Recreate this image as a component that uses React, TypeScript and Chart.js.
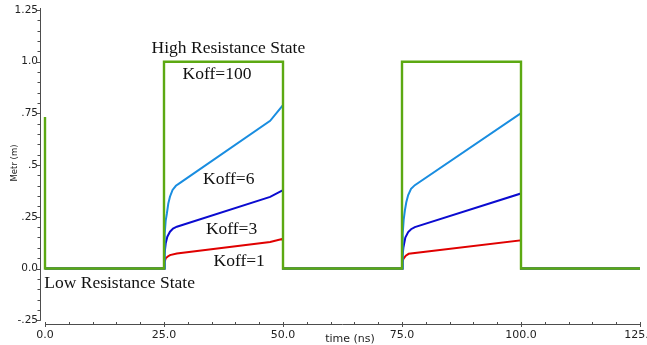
import React, { useEffect, useRef } from "react";
import { Chart, registerables } from "chart.js";

Chart.register(...registerables);

// Koff = 100: the switching pulse itself (green)
const koff100Time = [0, 0, 25, 25, 50, 50, 75, 75, 100, 100, 125];
const koff100Metr = [0.733, 0, 0, 1, 1, 0, 0, 1, 1, 0, 0];

// Koff = 6 (light blue)
const koff6Time = [0, 25, 25.15, 25.35, 25.6, 25.9, 26.25, 26.8, 27.5, 28.3, 47.3, 50, 50, 75, 75.15, 75.35, 75.6, 75.9, 76.3, 76.9, 77.7, 100, 100, 125];
const koff6Metr = [0, 0, 0.17, 0.23, 0.265, 0.314, 0.347, 0.38, 0.4, 0.413, 0.714, 0.79, 0, 0, 0.17, 0.235, 0.28, 0.32, 0.355, 0.385, 0.403, 0.751, 0, 0];

// Koff = 3 (dark blue)
const koff3Time = [0, 25, 25.1, 25.36, 25.7, 26.26, 26.9, 27.7, 47.3, 50, 50, 75, 75.1, 75.3, 75.7, 76.3, 76.9, 77.7, 100, 100, 125];
const koff3Metr = [0, 0, 0.07, 0.122, 0.154, 0.178, 0.193, 0.202, 0.346, 0.379, 0, 0, 0.06, 0.103, 0.15, 0.176, 0.19, 0.2, 0.363, 0, 0];

// Koff = 1 (red)
const koff1Time = [0, 25, 25.1, 25.36, 25.8, 26.26, 27.7, 47.3, 50, 50, 75, 75.1, 75.3, 75.8, 76.4, 100, 100, 125];
const koff1Metr = [0, 0, 0.03, 0.049, 0.058, 0.065, 0.073, 0.128, 0.144, 0, 0, 0.03, 0.047, 0.062, 0.071, 0.136, 0, 0];

const xTickLabels = ["0.0", "25.0", "50.0", "75.0", "100.0", "125.0"];
const yTickLabels = ["-.25", "0.0", ".25", ".5", ".75", "1.0", "1.25"];

// Text notes placed in data coordinates (time, Metr) at the left end of the baseline
const notes = [
  { text: "High Resistance State", t: 22.4, m: 1.042 },
  { text: "Koff=100", t: 28.9, m: 0.914 },
  { text: "Koff=6", t: 33.2, m: 0.41 },
  { text: "Koff=3", t: 33.8, m: 0.169 },
  { text: "Koff=1", t: 35.4, m: 0.012 },
  { text: "Low Resistance State", t: -0.15, m: -0.094 },
];

const toPoints = (ts: number[], ms: number[]) => ts.map((t, i) => ({ x: t, y: ms[i] }));

const AXIS_COLOR = "#4d4d4d";
const TEXT_COLOR = "#222222";

// Detached axes with major/minor ticks, axis titles and the serif notes
const decorations = {
  id: "decorations",
  afterDraw(chart: any) {
    const { ctx } = chart;
    const xs = chart.scales.x;
    const ys = chart.scales.y;
    ctx.save();
    ctx.strokeStyle = AXIS_COLOR;
    ctx.lineWidth = 1;

    // vertical axis, set a few pixels left of the plot area
    const ax = Math.round(xs.left - 5) + 0.5;
    ctx.beginPath();
    ctx.moveTo(ax, ys.top - 2);
    ctx.lineTo(ax, ys.bottom + 0.5);
    for (let k = 0; k <= 30; k++) {
      const v = -0.25 + k * 0.05;
      const p = Math.round(ys.getPixelForValue(v)) + 0.5;
      const major = k % 5 === 0;
      ctx.moveTo(ax - (major ? 4 : 3), p);
      ctx.lineTo(ax, p);
    }
    ctx.stroke();

    // horizontal axis, set a few pixels below the plot area
    const ay = Math.round(ys.bottom + 3.8) + 0.5;
    ctx.beginPath();
    ctx.moveTo(xs.left, ay);
    ctx.lineTo(xs.right, ay);
    for (let k = 0; k <= 25; k++) {
      const t = k * 5;
      const p = Math.round(xs.getPixelForValue(t)) + 0.5;
      const major = k % 5 === 0;
      ctx.moveTo(p, ay - 2.5);
      ctx.lineTo(p, ay + (major ? 2.5 : 0));
    }
    ctx.stroke();

    // axis titles
    ctx.fillStyle = TEXT_COLOR;
    ctx.font = '11px "DejaVu Sans"';
    ctx.textAlign = "center";
    ctx.textBaseline = "alphabetic";
    ctx.fillText("time (ns)", 350, 341.5);

    ctx.save();
    ctx.translate(17, 163);
    ctx.rotate(-Math.PI / 2);
    ctx.font = '8.5px "DejaVu Sans"';
    ctx.fillText("Metr (m)", 0, 0);
    ctx.restore();

    // notes
    ctx.fillStyle = "#111111";
    ctx.font = '17.5px "Liberation Serif"';
    ctx.textAlign = "left";
    for (const n of notes) {
      ctx.fillText(n.text, xs.getPixelForValue(n.t), ys.getPixelForValue(n.m));
    }
    ctx.restore();
  },
};

export default function App() {
  const canvasRef = useRef<HTMLCanvasElement | null>(null);

  useEffect(() => {
    const canvas = canvasRef.current;
    if (!canvas) return;
    const line = (label: string, color: string, width: number, ts: number[], ms: number[]) => ({
      label,
      data: toPoints(ts, ms),
      borderColor: color,
      backgroundColor: color,
      borderWidth: width,
      pointRadius: 0,
      tension: 0,
      fill: false,
      clip: false as const,
    });

    const chart = new Chart(canvas, {
      type: "line",
      data: {
        datasets: [
          line("Koff=100", "#5ca912", 2.4, koff100Time, koff100Metr),
          line("Koff=6", "#198de0", 2, koff6Time, koff6Metr),
          line("Koff=3", "#0b0bd0", 2, koff3Time, koff3Metr),
          line("Koff=1", "#e00000", 2, koff1Time, koff1Metr),
        ],
      },
      options: {
        animation: false,
        responsive: false,
        devicePixelRatio: 1,
        layout: { padding: { top: 10, right: 7, left: 0, bottom: 0 } },
        plugins: {
          legend: { display: false },
          tooltip: { enabled: false },
        },
        scales: {
          x: {
            type: "linear",
            min: 0,
            max: 125,
            grid: { display: false, drawTicks: false },
            border: { display: false },
            ticks: {
              stepSize: 25,
              padding: 8,
              color: TEXT_COLOR,
              font: { family: "DejaVu Sans", size: 11 },
              maxRotation: 0,
              autoSkip: false,
              callback: (_v: any, i: number) => xTickLabels[i],
            },
            afterFit: (s: any) => {
              s.height = 345 - 320.2;
              s.paddingLeft = 0;
              s.paddingRight = 0;
            },
          },
          y: {
            type: "linear",
            min: -0.25,
            max: 1.25,
            grid: { display: false, drawTicks: false },
            border: { display: false },
            ticks: {
              stepSize: 0.25,
              padding: 7,
              color: TEXT_COLOR,
              font: { family: "DejaVu Sans", size: 10.5 },
              autoSkip: false,
              callback: (_v: any, i: number) => yTickLabels[i],
            },
            afterFit: (s: any) => {
              s.width = 45;
              s.paddingTop = 0;
              s.paddingBottom = 0;
            },
          },
        },
      },
      plugins: [decorations],
    });
    return () => chart.destroy();
  }, []);

  return (
    <div style={{ position: "fixed", left: 0, top: 0, width: 647, height: 345, background: "#ffffff" }}>
      <canvas ref={canvasRef} width={647} height={345} />
    </div>
  );
}
